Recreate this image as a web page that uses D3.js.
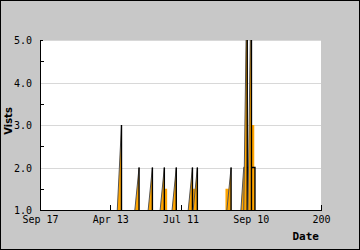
<!DOCTYPE html>
<html>
<head>
<meta charset="utf-8">
<script src="https://cdn.jsdelivr.net/npm/d3@7"></script>
<style>
  body { margin: 0; background: #fff; }
  svg { display: block; }
  .tick text { font-family: "DejaVu Sans Mono", monospace; font-size: 10px; fill: #000; }
</style>
</head>
<body>
<div id="chart"></div>
<script>
// x is a plain index, labels are the ones printed on the chart
var xTicks = [0, 100, 200, 300, 400]
var xTickLabels = ["Sep 17", "Apr 13", "Jul 11", "Sep 10", "200"]
var yTicks = [1, 2, 3, 4, 5]

// spikes: where the ramp starts, where visits peak (and drop), how high
var spikeStart = [110, 135, 154, 171, 188, 211, 218, 266, 286, 290, 296]
var spikeEnd   = [116, 141, 160, 177, 194, 217, 224, 272, 306, 295, 301]
var spikeVisits = [3, 2, 2, 2, 2, 2, 2, 2, 2, 7, 7]

// orange shoulders left beside some spikes (no outline)
var shoulderStart = [177, 217, 264, 300]
var shoulderEnd   = [181, 223, 272, 305]
var shoulderVisits = [1.5, 1.5, 1.5, 3]

var W = 360, H = 250
var margin = {top: 40, right: 39, bottom: 40, left: 40}
  , width = W - margin.left - margin.right
  , height = H - margin.top - margin.bottom

var svg = d3.select("#chart").append("svg")
    .attr("width", W)
    .attr("height", H)

// grey frame with black border
svg.append("rect")
    .attr("x", 0.5).attr("y", 0.5)
    .attr("width", W - 1).attr("height", H - 1)
    .attr("fill", "#c8c8c8")
    .attr("stroke", "#000")

var g = svg.append("g")
    .attr("transform", "translate(" + margin.left + "," + margin.top + ")")

g.append("rect")
    .attr("width", width).attr("height", height)
    .attr("fill", "#fff")

var xScale = d3.scaleLinear().domain([0, 400]).range([0, width])
var yScale = d3.scaleLinear().domain([1, 5]).range([height, 0])

// gridlines
g.selectAll(".grid")
    .data(yTicks.slice(1))
  .enter().append("line")
    .attr("x1", 0).attr("x2", width)
    .attr("y1", function(d) { return Math.round(yScale(d)) + 0.5 })
    .attr("y2", function(d) { return Math.round(yScale(d)) + 0.5 })
    .attr("stroke", "#d8d8d8")

g.append("clipPath").attr("id", "clip")
  .append("rect").attr("width", width).attr("height", height + 1)

var plane = g.append("g").attr("clip-path", "url(#clip)")

// shoulders
plane.selectAll(".shoulder")
    .data(d3.range(shoulderStart.length))
  .enter().append("rect")
    .attr("x", function(i) { return xScale(shoulderStart[i]) })
    .attr("width", function(i) { return xScale(shoulderEnd[i]) - xScale(shoulderStart[i]) })
    .attr("y", function(i) { return yScale(shoulderVisits[i]) })
    .attr("height", function(i) { return yScale(1) - yScale(shoulderVisits[i]) })
    .attr("fill", "#ffa500")

var line = d3.line()
    .x(function(d) { return xScale(d[0]) })
    .y(function(d) { return yScale(d[1]) })

// each spike: ramp up from start, flat (if wide) then straight drop
function spikePoints(i) {
    var s = spikeStart[i], e = spikeEnd[i], v = spikeVisits[i]
    if (e - s > 8) return [[s, 1], [s + 4, v], [e, v], [e, 1]]
    return [[s, 1], [e, v], [e, 1]]
}

var spikes = plane.selectAll(".spike")
    .data(d3.range(spikeStart.length))
  .enter().append("g")

spikes.append("path")
    .attr("d", function(i) { return line(spikePoints(i)) })
    .attr("fill", "#ffa500")

// soft rising edge
spikes.append("path")
    .attr("d", function(i) { return line(spikePoints(i).slice(0, 2)) })
    .attr("fill", "none")
    .attr("stroke", "#555")
    .attr("stroke-width", 1)

// hard falling edge
spikes.append("path")
    .attr("d", function(i) { return line(spikePoints(i).slice(1)) })
    .attr("fill", "none")
    .attr("stroke", "#000")
    .attr("stroke-width", 1.4)

// y axis
var yAxis = g.append("g")
    .call(d3.axisLeft(yScale).tickValues(yTicks).tickSize(0).tickPadding(8)
        .tickFormat(d3.format(".1f")))
yAxis.select(".domain").remove()
yAxis.selectAll(".tick text").attr("dy", "0.35em")

// minor y ticks pointing inward
g.selectAll(".yminor")
    .data([1.5, 2.5, 3.5, 4.5, 5])
  .enter().append("line")
    .attr("x1", 0).attr("x2", function(d) { return d == 5 ? 3 : 4 })
    .attr("y1", function(d) { return Math.round(yScale(d)) + 0.5 })
    .attr("y2", function(d) { return Math.round(yScale(d)) + 0.5 })
    .attr("stroke", "#000")

// x axis
var xAxis = g.append("g")
    .attr("transform", "translate(0," + height + ")")
    .call(d3.axisBottom(xScale).tickValues(xTicks).tickSize(0).tickPadding(6)
        .tickFormat(function(d, i) { return xTickLabels[i] }))
xAxis.select(".domain").remove()

g.selectAll(".xtick")
    .data(xTicks)
  .enter().append("line")
    .attr("x1", function(d) { return Math.round(xScale(d)) + 0.5 })
    .attr("x2", function(d) { return Math.round(xScale(d)) + 0.5 })
    .attr("y1", height).attr("y2", height - 5)
    .attr("stroke", "#000")

// axis lines
g.append("line")
    .attr("x1", 0.5).attr("x2", 0.5).attr("y1", 0).attr("y2", height)
    .attr("stroke", "#000")
g.append("line")
    .attr("x1", 0).attr("x2", width + 1).attr("y1", height + 0.5).attr("y2", height + 0.5)
    .attr("stroke", "#000")

// axis titles
svg.append("text")
    .attr("x", 319).attr("y", 240)
    .attr("text-anchor", "end")
    .style("font-family", "DejaVu Sans Mono, monospace")
    .style("font-weight", "bold")
    .style("font-size", "11px")
    .text("Date")

svg.append("text")
    .attr("transform", "translate(12,121) rotate(-90)")
    .attr("text-anchor", "middle")
    .style("font-family", "DejaVu Sans, sans-serif")
    .style("font-weight", "bold")
    .style("font-size", "10px")
    .text("Vists")
</script>
</body>
</html>
